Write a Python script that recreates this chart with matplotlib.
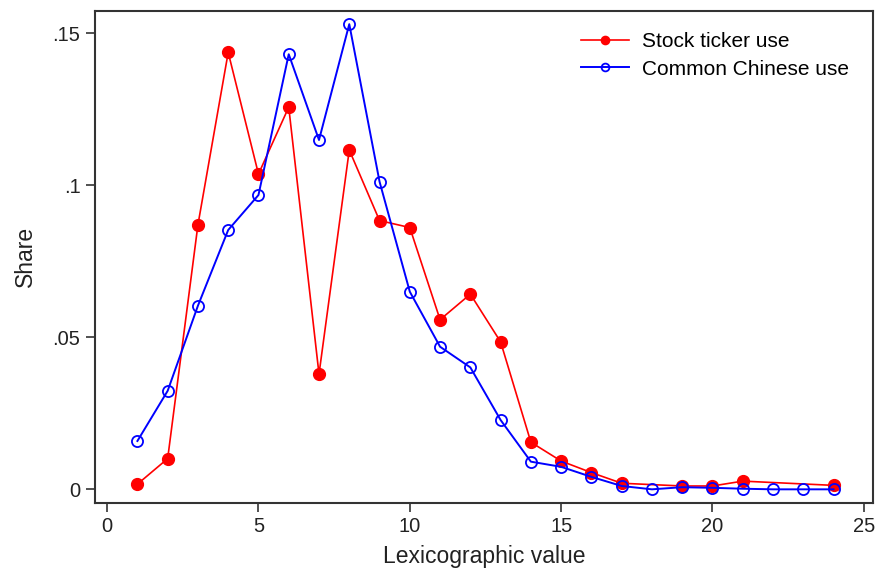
import matplotlib.pyplot as plt

plt.rcParams['font.family'] = ['Liberation Sans', 'DejaVu Sans']

# lexicographic values and shares
stock_x = [1, 2, 3, 4, 5, 6, 7, 8, 9, 10, 11, 12, 13, 14, 15, 16, 17, 19, 20, 21, 24]
stock_share = [0.0017, 0.0101, 0.087, 0.1437, 0.1037, 0.1257, 0.0379, 0.1116, 0.0884,
               0.0861, 0.0558, 0.0642, 0.0485, 0.0155, 0.0093, 0.0055, 0.002, 0.0011,
               0.0011, 0.0027, 0.0013]

common_x = list(range(1, 25))
common_share = [0.0159, 0.0324, 0.0604, 0.0853, 0.0968, 0.1431, 0.1149, 0.1530, 0.1012,
                0.065, 0.0469, 0.0401, 0.0228, 0.0091, 0.0074, 0.0041, 0.0011, 0.0,
                0.0007, 0.0005, 0.0002, 0.0, 0.0, 0.0]

xticks = [0, 5, 10, 15, 20, 25]
yticks = [0, 0.05, 0.1, 0.15]
ytick_labels = ['0', '.05', '.1', '.15']

fig = plt.figure(figsize=(8.75, 5.71), dpi=100)
ax = fig.add_axes([0.1086, 0.1196, 0.889, 0.861])

ax.plot(stock_x, stock_share, color='#ff0000', lw=1.2, marker='o', ms=8.5,
        mfc='#ff0000', mec='#ff0000', label='Stock ticker use')
ax.plot(common_x, common_share, color='#0000ff', lw=1.4, marker='o', ms=8,
        mfc='none', mec='#0000ff', mew=1.3, label='Common Chinese use')

ax.set_xlim(-0.4, 25.3)
ax.set_ylim(-0.0044, 0.1573)
ax.set_xticks(xticks)
ax.set_yticks(yticks)
ax.set_yticklabels(ytick_labels)
ax.tick_params(labelsize=14.5, length=6.5, width=1.2, pad=4, color='#333333',
               labelcolor='#222222')
ax.set_xlabel('Lexicographic value', fontsize=16.5, color='#222222', labelpad=6)
ax.set_ylabel('Share', fontsize=16.5, color='#222222', labelpad=11)
for s in ax.spines.values():
    s.set_linewidth(1.5)
    s.set_color('#333333')

ax.legend(loc='upper right', frameon=False, fontsize=15, markerscale=0.7,
          handlelength=2.3, handletextpad=0.6, labelspacing=0.4,
          bbox_to_anchor=(0.993, 0.995))

fig.savefig('out.png', dpi=100)
plt.close(fig)
